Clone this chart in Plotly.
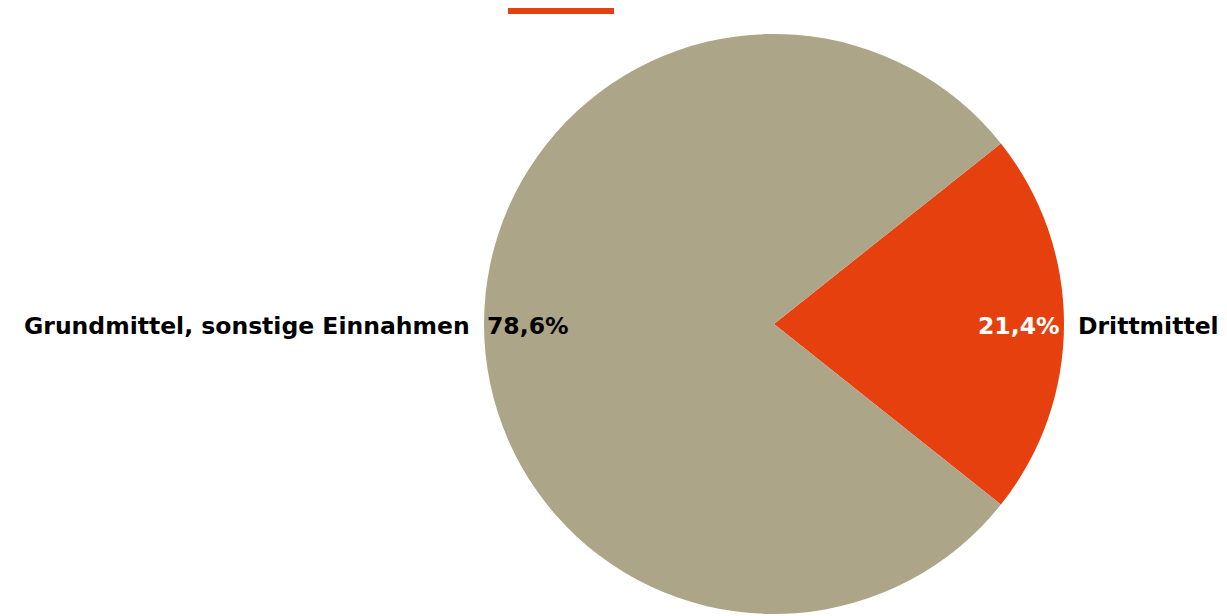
import plotly.graph_objects as go

labels = ["Drittmittel", "Grundmittel, sonstige Einnahmen"]
values = [21.4, 78.6]
colors = ["#E5400E", "#ADA588"]
pct_colors = ["#FFFFFF", "#000000"]

# page has 8px body margin; figure fills the rest of the 1227x616 window
OFF = 8
W, H = 1227 - OFF, 616 - OFF
cx, cy, r = 774 - OFF, 324 - OFF, 290
FONT = "DejaVu Sans"
FS = 23.5

total = sum(values)
rotation = 90 - values[0] / total * 180

fig = go.Figure(go.Pie(
    labels=labels,
    values=values,
    sort=False,
    direction="clockwise",
    rotation=rotation,
    marker=dict(colors=colors, line=dict(width=0)),
    textinfo="none",
    hoverinfo="label+percent",
    showlegend=False,
    domain=dict(x=[(cx - r) / W, (cx + r) / W], y=[(H - cy - r) / H, (H - cy + r) / H]),
))

def fmt(v):
    return f"{v / total * 100:.1f}%".replace(".", ",")

yc = (H - cy - 2) / H
ann = []
# right slice (Drittmittel)
ann.append(dict(x=(cx + r - 2) / W, y=yc, xref="paper", yref="paper", xanchor="right", yanchor="middle",
                text=f"<b>{fmt(values[0])}</b>", showarrow=False,
                font=dict(family=FONT, size=FS, color=pct_colors[0])))
ann.append(dict(x=(W - 6) / W, y=yc, xref="paper", yref="paper", xanchor="right", yanchor="middle",
                text=f"<b>{labels[0]}</b>", showarrow=False,
                font=dict(family=FONT, size=FS, color="#000000")))
# left slice (Grundmittel)
ann.append(dict(x=(cx - r + 1) / W, y=yc, xref="paper", yref="paper", xanchor="left", yanchor="middle",
                text=f"<b>{fmt(values[1])}</b>", showarrow=False,
                font=dict(family=FONT, size=FS, color=pct_colors[1])))
ann.append(dict(x=(cx - r - 12) / W, y=yc, xref="paper", yref="paper", xanchor="right", yanchor="middle",
                text=f"<b>{labels[1]}</b>", showarrow=False,
                font=dict(family=FONT, size=FS, color="#000000")))

fig.update_layout(
    width=W, height=H,
    margin=dict(l=0, r=0, t=0, b=0),
    paper_bgcolor="white",
    plot_bgcolor="white",
    annotations=ann,
    shapes=[dict(type="rect", xref="paper", yref="paper",
                 x0=(508 - OFF) / W, x1=(614 - OFF) / W,
                 y0=1 - (14 - OFF) / H, y1=1 - (7 - OFF) / H,
                 fillcolor=colors[0], line=dict(width=0))],
)

fig.write_html("out.html")
